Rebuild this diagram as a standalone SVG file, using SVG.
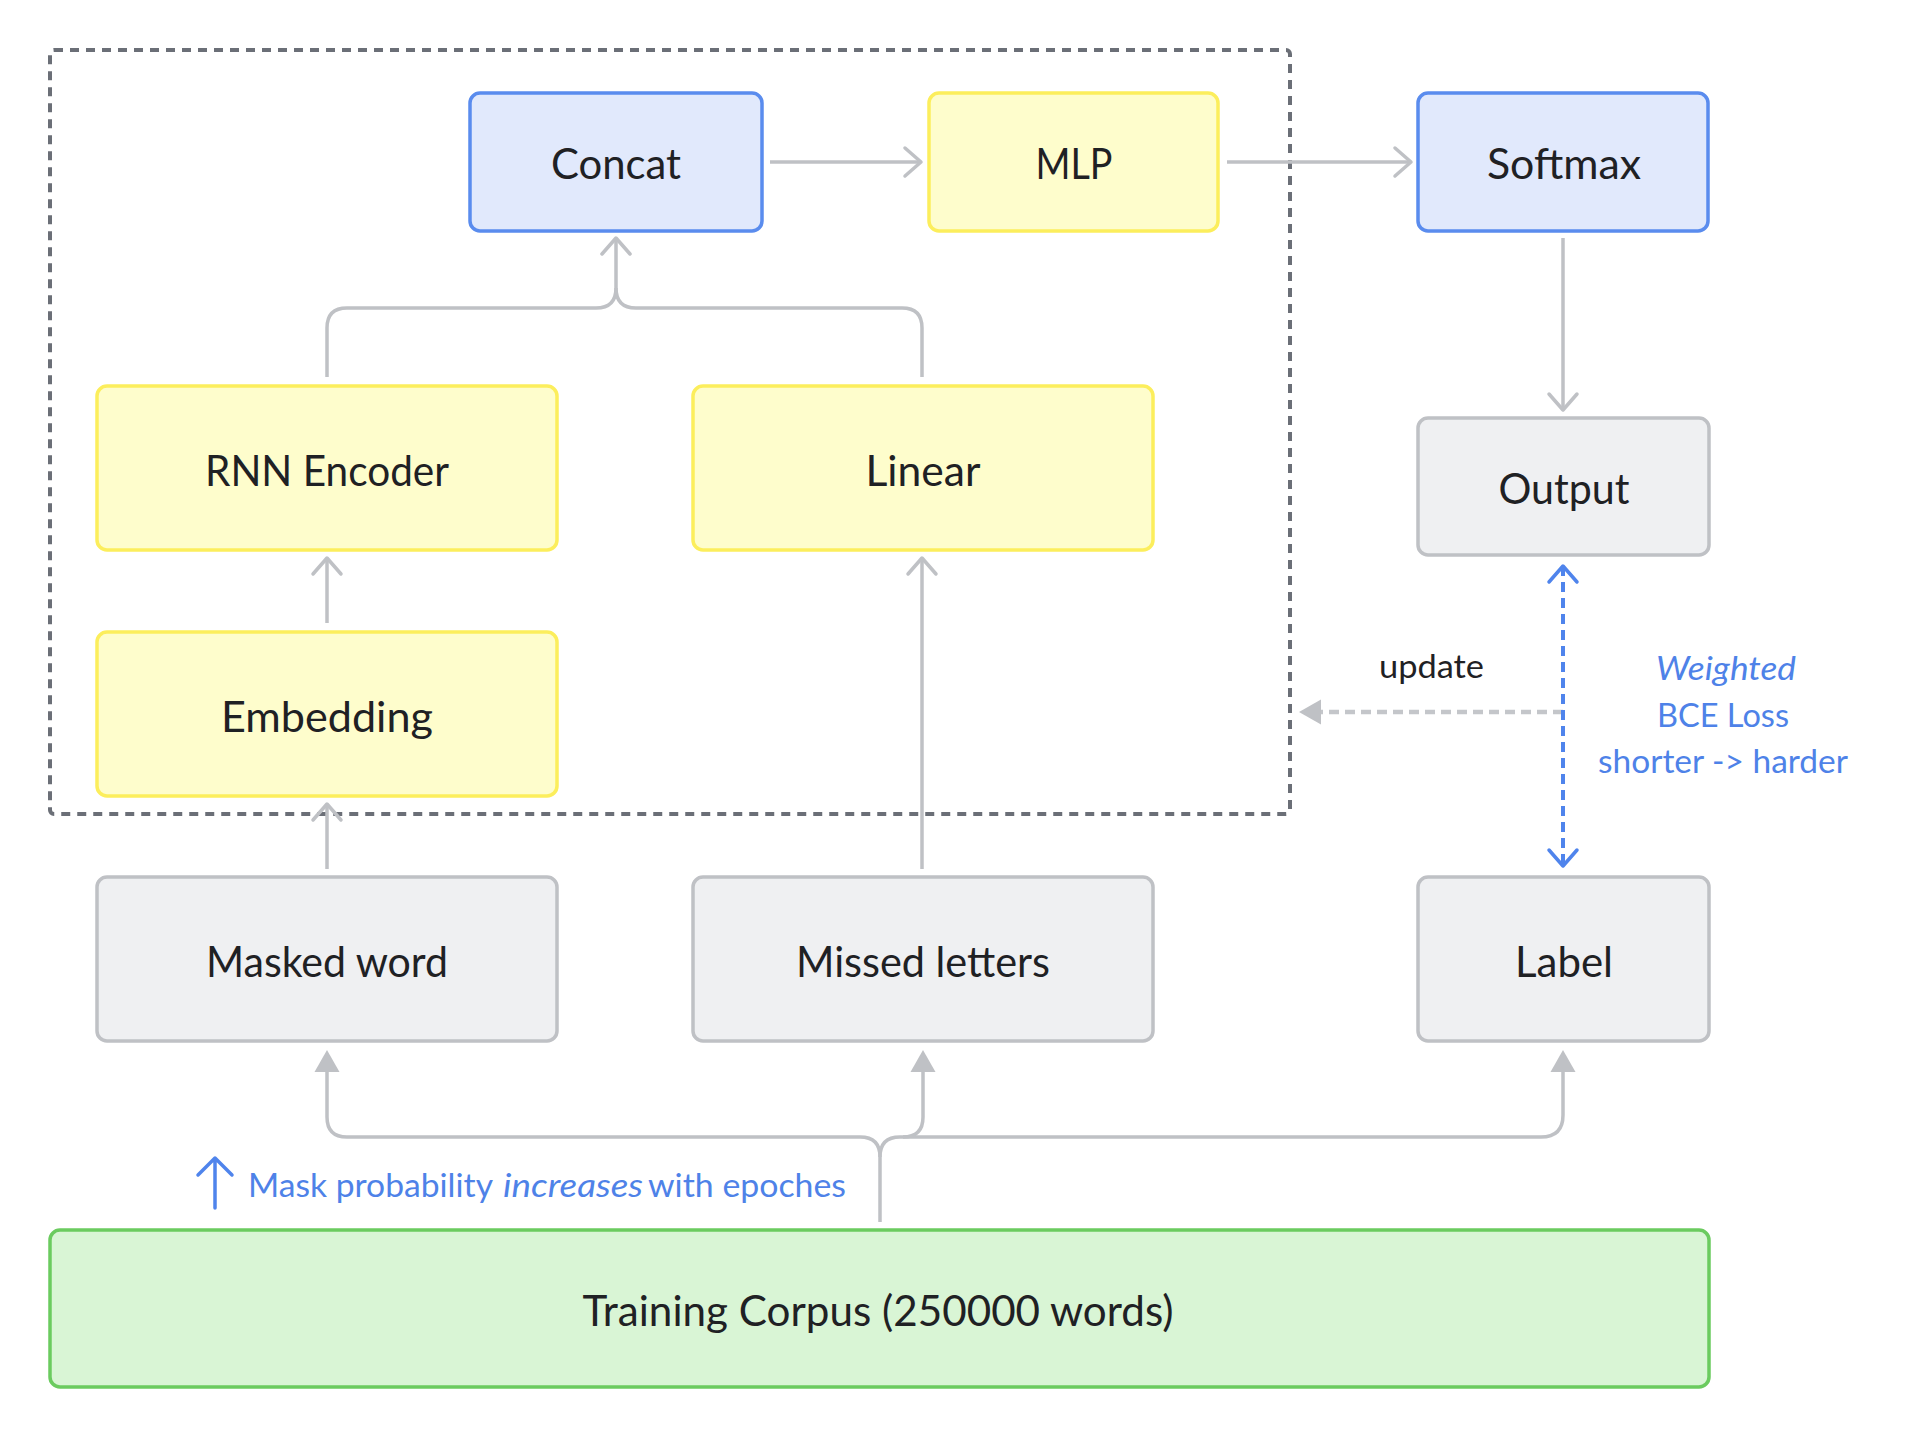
<svg xmlns="http://www.w3.org/2000/svg" width="1914" height="1438" viewBox="0 0 1914 1438">
<style>
  .node rect { stroke-width: 3.5; }
  .blue rect { fill: #e1e9fc; stroke: #5a8cee; }
  .yellow rect { fill: #fefdcc; stroke: #fcee5c; }
  .gray rect { fill: #eff0f2; stroke: #bfc1c5; }
  .green rect { fill: #d9f5d5; stroke: #6bcb5f; }
  .lbl { font-family: "Source Sans Pro", Lato, "Liberation Sans", sans-serif; font-size: 42px; fill: #1f2124; text-anchor: middle; }
  .note { font-family: "Source Sans Pro", Lato, "Liberation Sans", sans-serif; font-size: 33px; }
  .dark { fill: #1f2124; }
  .bluet { fill: #4e82e8; }
  .it { font-style: italic; }
  .conn { fill: none; stroke: #bfc1c5; stroke-width: 3.5; stroke-linejoin: round; }
</style>
<defs>
  <marker id="chev" markerUnits="userSpaceOnUse" markerWidth="40" markerHeight="40" viewBox="-20 -20 40 40" refX="0" refY="0" orient="auto" overflow="visible">
    <path d="M-16,-14 L0,0 L-16,14" fill="none" stroke="#bfc1c5" stroke-width="3.5" stroke-linecap="round" stroke-linejoin="round"/>
  </marker>
  <marker id="chevb" markerUnits="userSpaceOnUse" markerWidth="40" markerHeight="40" viewBox="-20 -20 40 40" refX="0" refY="0" orient="auto-start-reverse" overflow="visible">
    <path d="M-16,-14 L0,0 L-16,14" fill="none" stroke="#4f84ec" stroke-width="3.5" stroke-linecap="round" stroke-linejoin="round"/>
  </marker>
  <marker id="tri" markerUnits="userSpaceOnUse" markerWidth="40" markerHeight="40" viewBox="-5 -20 40 40" refX="0" refY="0" orient="auto" overflow="visible">
    <path d="M0,-12.5 L22,0 L0,12.5 Z" fill="#bfc1c5"/>
  </marker>
</defs>

<rect id="container" x="50" y="50" width="1240" height="764" rx="4" fill="none" stroke="#6b6f77" stroke-width="4" stroke-dasharray="9 7"/>

<g id="connectors">
  <path class="conn" d="M770,162 H921" marker-end="url(#chev)"/>
  <path class="conn" d="M1227,162 H1411" marker-end="url(#chev)"/>
  <path class="conn" d="M1563,238 V410" marker-end="url(#chev)"/>
  <path class="conn" d="M327,377 V328 Q327,308 347,308 H596 Q616,308 616,288 V238" marker-end="url(#chev)"/>
  <path class="conn" d="M922,377 V328 Q922,308 902,308 H636 Q616,308 616,288"/>
  <path class="conn" d="M327,623 V558" marker-end="url(#chev)"/>
  <path class="conn" d="M327,869 V804" marker-end="url(#chev)"/>
  <path class="conn" d="M922,869 V558" marker-end="url(#chev)"/>
  <path class="conn" d="M880,1222 V1157 Q880,1137 860,1137 H347 Q327,1137 327,1117 V1072" marker-end="url(#tri)"/>
  <path class="conn" d="M880,1157 Q880,1137 900,1137 H903 Q923,1137 923,1117 V1072" marker-end="url(#tri)"/>
  <path class="conn" d="M903,1137 H1541 Q1563,1137 1563,1115 V1072" marker-end="url(#tri)"/>
  <path d="M1563,712 H1321" fill="none" stroke="#c4c6ca" stroke-width="4.5" stroke-dasharray="10 6" marker-end="url(#tri)"/>
  <path d="M1563,566 V866" fill="none" stroke="#4f84ec" stroke-width="4" stroke-dasharray="10 6" marker-start="url(#chevb)" marker-end="url(#chevb)"/>
  <path d="M215,1208 V1158 M198,1175 L215,1158 L232,1175" fill="none" stroke="#4f84ec" stroke-width="3.5" stroke-linecap="round" stroke-linejoin="round"/>
</g>

<g id="concat" class="node blue"><rect x="470" y="93" width="292" height="138" rx="10"/><text class="lbl" x="616" y="179" textLength="130" lengthAdjust="spacingAndGlyphs">Concat</text></g>
<g id="mlp" class="node yellow"><rect x="929" y="93" width="289" height="138" rx="10"/><text class="lbl" x="1074" y="179" textLength="77" lengthAdjust="spacingAndGlyphs">MLP</text></g>
<g id="softmax" class="node blue"><rect x="1418" y="93" width="290" height="138" rx="10"/><text class="lbl" x="1564" y="179" textLength="154" lengthAdjust="spacingAndGlyphs">Softmax</text></g>
<g id="rnn" class="node yellow"><rect x="97" y="386" width="460" height="164" rx="10"/><text class="lbl" x="327" y="486" textLength="244" lengthAdjust="spacingAndGlyphs">RNN Encoder</text></g>
<g id="linear" class="node yellow"><rect x="693" y="386" width="460" height="164" rx="10"/><text class="lbl" x="923" y="486" textLength="115" lengthAdjust="spacingAndGlyphs">Linear</text></g>
<g id="embedding" class="node yellow"><rect x="97" y="632" width="460" height="164" rx="10"/><text class="lbl" x="327" y="732" textLength="212" lengthAdjust="spacingAndGlyphs">Embedding</text></g>
<g id="output" class="node gray"><rect x="1418" y="418" width="291" height="137" rx="10"/><text class="lbl" x="1564" y="504" textLength="131" lengthAdjust="spacingAndGlyphs">Output</text></g>
<g id="masked" class="node gray"><rect x="97" y="877" width="460" height="164" rx="10"/><text class="lbl" x="327" y="977" textLength="242" lengthAdjust="spacingAndGlyphs">Masked word</text></g>
<g id="missed" class="node gray"><rect x="693" y="877" width="460" height="164" rx="10"/><text class="lbl" x="923" y="977" textLength="254" lengthAdjust="spacingAndGlyphs">Missed letters</text></g>
<g id="label" class="node gray"><rect x="1418" y="877" width="291" height="164" rx="10"/><text class="lbl" x="1564" y="977" textLength="98" lengthAdjust="spacingAndGlyphs">Label</text></g>
<g id="corpus" class="node green"><rect x="50" y="1230" width="1659" height="157" rx="10"/><text class="lbl" x="878" y="1326" textLength="591" lengthAdjust="spacingAndGlyphs">Training Corpus (250000 words)</text></g>

<g id="annotations">
  <text class="note dark" x="1379" y="678" textLength="105" lengthAdjust="spacingAndGlyphs">update</text>
  <text class="note bluet it" x="1656" y="680" textLength="140" lengthAdjust="spacingAndGlyphs">Weighted</text>
  <text class="note bluet" x="1657" y="727" textLength="132" lengthAdjust="spacingAndGlyphs">BCE Loss</text>
  <text class="note bluet" x="1598" y="773" textLength="250" lengthAdjust="spacingAndGlyphs">shorter -&gt; harder</text>
  <text class="note bluet" x="248" y="1197" textLength="245" lengthAdjust="spacingAndGlyphs">Mask probability</text>
  <text class="note bluet it" x="503" y="1197" textLength="140" lengthAdjust="spacingAndGlyphs">increases</text>
  <text class="note bluet" x="648" y="1197" textLength="198" lengthAdjust="spacingAndGlyphs">with epoches</text>
</g>
</svg>
